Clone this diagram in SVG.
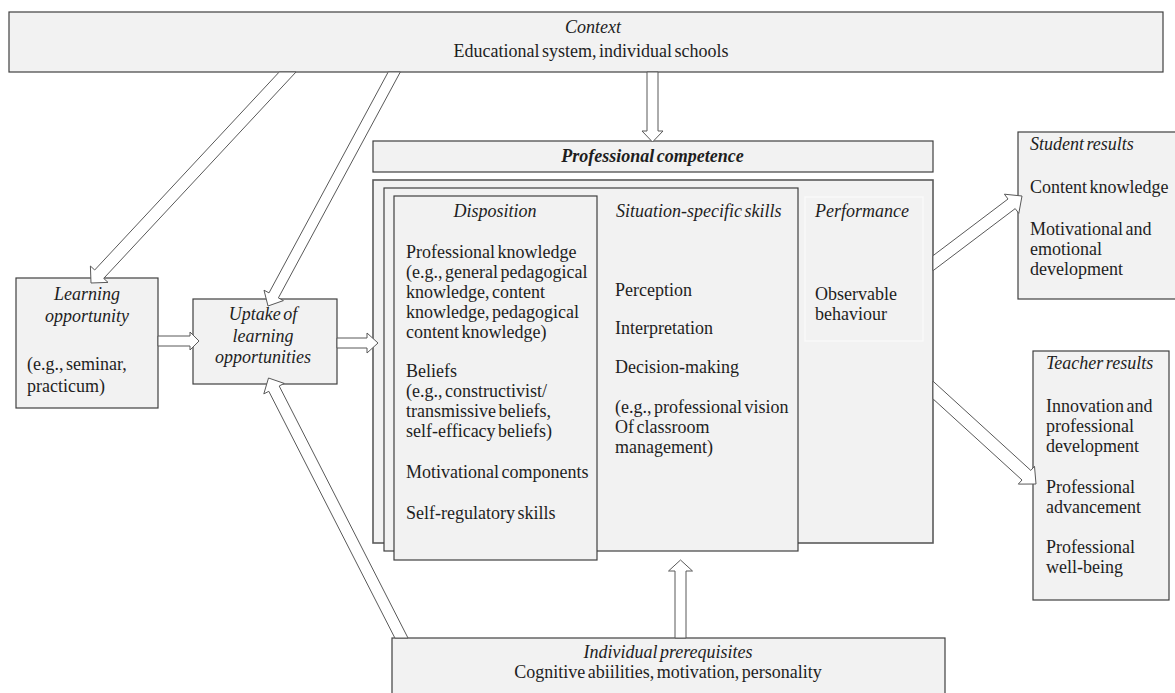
<svg xmlns="http://www.w3.org/2000/svg" width="1175" height="693" viewBox="0 0 1175 693" font-family="'Liberation Serif', 'Times New Roman', Tinos, 'DejaVu Serif', serif">
<style>
.box{fill:#f2f2f2;stroke:#404040;stroke-width:1.2}
.outer{fill:#f2f2f2;stroke:#5a5a5a;stroke-width:1.6}
.perf{fill:#f2f2f2;stroke:#fbfbfb;stroke-width:1.2}
.arrow{fill:#ffffff;stroke:#595959;stroke-width:1}
text{font-family:'Liberation Serif','Times New Roman',Tinos,'DejaVu Serif',serif;font-size:18px;fill:#1e1e1e;word-spacing:-2px}
.i{font-style:italic}
.b{font-weight:bold}
.m{text-anchor:middle}
</style>
<rect width="1175" height="693" fill="#ffffff"/>

<g id="context">
<rect class="box" x="9" y="12" width="1154" height="60"/>
<text class="i m" x="593" y="33">Context</text>
<text class="m" x="591" y="57">Educational system, individual schools</text>
</g>

<g id="professional-competence">
<rect class="box" x="373" y="141" width="560" height="31"/>
<text class="i b m" x="652.5" y="162">Professional competence</text>
</g>

<g id="competence-stack">
<rect class="outer" x="373" y="180" width="560" height="363"/>
</g>

<g id="situation-specific-skills">
<rect class="box" x="384" y="188" width="414" height="363"/>
<text class="i" x="616" y="217">Situation-specific skills</text>
<text x="615" y="296">Perception</text>
<text x="615" y="334">Interpretation</text>
<text x="615" y="373">Decision-making</text>
<text x="615" y="413">(e.g., professional vision</text>
<text x="615" y="433">Of classroom</text>
<text x="615" y="453">management)</text>
</g>

<g id="disposition">
<rect class="box" x="394" y="196" width="203" height="364"/>
<text class="i m" x="495" y="217">Disposition</text>
<text x="406" y="258">Professional knowledge</text>
<text x="406" y="278">(e.g., general pedagogical</text>
<text x="406" y="298">knowledge, content</text>
<text x="406" y="318">knowledge, pedagogical</text>
<text x="406" y="338">content knowledge)</text>
<text x="406" y="377">Beliefs</text>
<text x="406" y="397">(e.g., constructivist/</text>
<text x="406" y="417">transmissive beliefs,</text>
<text x="406" y="437">self-efficacy beliefs)</text>
<text x="406" y="478">Motivational components</text>
<text x="406" y="519">Self-regulatory skills</text>
</g>

<g id="performance">
<rect class="perf" x="805" y="197" width="118" height="144"/>
<text class="i" x="815" y="217">Performance</text>
<text x="815" y="300">Observable</text>
<text x="815" y="320">behaviour</text>
</g>

<g id="learning-opportunity">
<rect class="box" x="16" y="278" width="142" height="130"/>
<text class="i m" x="87" y="300">Learning</text>
<text class="i m" x="87" y="322">opportunity</text>
<text x="27" y="370">(e.g., seminar,</text>
<text x="27" y="392">practicum)</text>
</g>

<g id="uptake">
<rect class="box" x="193" y="299" width="144" height="85"/>
<text class="i m" x="263" y="320">Uptake of</text>
<text class="i m" x="263" y="342">learning</text>
<text class="i m" x="263" y="363">opportunities</text>
</g>

<g id="student-results">
<rect class="box" x="1018" y="132" width="160" height="167"/>
<text class="i" x="1030" y="150">Student results</text>
<text x="1030" y="193">Content knowledge</text>
<text x="1030" y="235">Motivational and</text>
<text x="1030" y="255">emotional</text>
<text x="1030" y="275">development</text>
</g>

<g id="teacher-results">
<rect class="box" x="1033" y="351" width="136" height="249"/>
<text class="i" x="1046" y="369">Teacher results</text>
<text x="1046" y="412">Innovation and</text>
<text x="1046" y="432">professional</text>
<text x="1046" y="452">development</text>
<text x="1046" y="493">Professional</text>
<text x="1046" y="513">advancement</text>
<text x="1046" y="553">Professional</text>
<text x="1046" y="573">well-being</text>
</g>

<g id="individual-prerequisites">
<rect class="box" x="392" y="638" width="553" height="70"/>
<text class="i m" x="668" y="658">Individual prerequisites</text>
<text class="m" x="668" y="678">Cognitive abiilities, motivation, personality</text>
</g>

<g id="connectors">
<polygon class="arrow" points="279.2,72 94.7,270 90.4,266 91,283 108,282.4 103.7,278.4 296,72"/>
<polygon class="arrow" points="388.2,72 269,292.9 264,290.2 268,306 283.4,300.6 278.4,297.9 400.3,72"/>
<polygon class="arrow" points="647,72 647,131 642,131 652.5,142 663,131 658,131 658,72"/>
<polygon class="arrow" points="158,336 190,336 190,332 199,341 190,350 190,346 158,346"/>
<polygon class="arrow" points="337,338 367,338 367,333 378,343 367,353 367,348 337,348"/>
<polygon class="arrow" points="408,638 279.2,386 284.2,383.4 268.5,378 263.8,393.9 268.8,391.3 394.9,638"/>
<polygon class="arrow" points="675,638 675,571 668.5,571 680.5,560 692.5,571 686,571 686,638"/>
<polygon class="arrow" points="933,255.7 1008,199 1004.4,194.2 1022,196 1018.8,213.4 1015.2,208.6 933,270.7"/>
<polygon class="arrow" points="933,381.2 1030.8,470.4 1034.5,466.3 1036,484 1018.3,484.1 1022,480 933,398.9"/>
</g>
</svg>
